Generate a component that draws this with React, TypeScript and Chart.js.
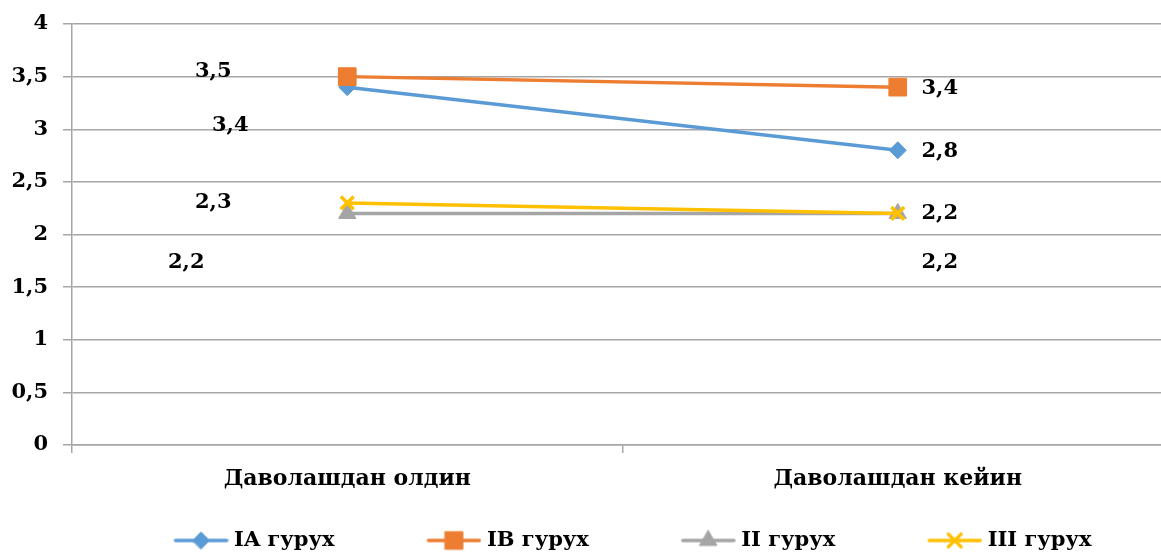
import React, { useEffect, useRef } from 'react';
import { Chart, registerables } from 'chart.js';
import { drawPoint } from 'chart.js/helpers';

Chart.register(...registerables);

const categories = ['Даволашдан олдин', 'Даволашдан кейин'];
const seriesNames = ['IA гурух', 'IB гурух', 'II гурух', 'III гурух'];
const iaValues = [3.4, 2.8];
const ibValues = [3.5, 3.4];
const iiValues = [2.2, 2.2];
const iiiValues = [2.3, 2.2];
const yTicks = [0, 0.5, 1, 1.5, 2, 2.5, 3, 3.5, 4];

const FONT = '"DejaVu Serif", serif';
const GRID = '#a6a6a6';
const colors = ['#5B9BD5', '#ED7D31', '#A5A5A5', '#FFC000'];
const pointStyles = ['rectRot', 'rect', 'triangle', 'crossRot'];
const pointRadii = [8.5, 12.5, 10, 9];
const drawOrder = [4, 3, 2, 1];
// value label offsets [dx, dy] from each point, per series, per category
const labelOffsets = [
  [[-117, 38], [42, 1]],
  [[-134, -5], [42, 1]],
  [[-161, 49], [42, 49]],
  [[-134, 0], [42, 0]],
];

const CW = 1161;
const CH = 554;
const PLOT_TOP = 24;
const PLOT_RIGHT = 1173; // plot area runs past the right edge of the picture
const LEGEND_SHIFT_X = 8;
const LEGEND_SHIFT_Y = 7;
const LEGEND_BOX = 138;
const LEGEND_LINE = 55;
const FS = 21;

function fmt(v: number) {
  return String(v).replace('.', ',');
}

function legendImage(i: number) {
  const w = LEGEND_BOX + 10;
  const h = 28;
  const c = document.createElement('canvas');
  c.width = w;
  c.height = h;
  const ctx = c.getContext('2d')!;
  const x1 = w - LEGEND_LINE;
  const x2 = w;
  const y = h / 2;
  ctx.strokeStyle = colors[i];
  ctx.lineWidth = 3.5;
  ctx.lineCap = 'round';
  ctx.beginPath();
  ctx.moveTo(x1 + 2, y);
  ctx.lineTo(x2 - 2, y);
  ctx.stroke();
  ctx.fillStyle = colors[i];
  ctx.strokeStyle = colors[i];
  ctx.lineWidth = i === 3 ? 3.5 : 1;
  drawPoint(ctx, { pointStyle: pointStyles[i], radius: pointRadii[i], rotation: 0, borderWidth: ctx.lineWidth } as any, (x1 + x2) / 2, y);
  return c;
}

const layoutTweakPlugin = {
  id: 'layoutTweak',
  afterLayout(chart: any) {
    const x = chart.scales.x;
    const y = chart.scales.y;
    const ca = chart.chartArea;
    x.right = PLOT_RIGHT;
    x.width = x.right - x.left;
    x.configure();
    y.top = PLOT_TOP;
    y.height = y.bottom - y.top;
    y.configure();
    ca.right = PLOT_RIGHT;
    ca.width = ca.right - ca.left;
    ca.top = PLOT_TOP;
    ca.height = ca.bottom - ca.top;
    const lg = chart.legend;
    if (lg) {
      lg.left += LEGEND_SHIFT_X;
      lg.right += LEGEND_SHIFT_X;
      lg.top += LEGEND_SHIFT_Y;
      lg.bottom += LEGEND_SHIFT_Y;
    }
  },
};

const valueLabelPlugin = {
  id: 'valueLabels',
  afterDatasetsDraw(chart: any) {
    const ctx = chart.ctx;
    ctx.save();
    ctx.font = `bold ${FS}px ${FONT}`;
    ctx.fillStyle = '#000';
    ctx.textAlign = 'center';
    ctx.textBaseline = 'middle';
    chart.data.datasets.forEach((ds: any, i: number) => {
      const meta = chart.getDatasetMeta(i);
      meta.data.forEach((pt: any, j: number) => {
        const [dx, dy] = labelOffsets[i][j];
        ctx.fillText(fmt(ds.data[j]), pt.x + dx, pt.y + dy);
      });
    });
    ctx.restore();
  },
};

export default function App() {
  const ref = useRef<HTMLCanvasElement>(null);

  useEffect(() => {
    if (!ref.current) return;
    Chart.defaults.font.family = FONT;
    Chart.defaults.font.size = FS;
    Chart.defaults.font.weight = 'bold';
    Chart.defaults.color = '#000';

    const imgs = [0, 1, 2, 3].map(legendImage);
    const values = [iaValues, ibValues, iiValues, iiiValues];

    const chart = new Chart(ref.current, {
      type: 'line',
      data: {
        labels: categories,
        datasets: seriesNames.map((name, i) => ({
          label: name,
          data: values[i],
          borderColor: colors[i],
          backgroundColor: colors[i],
          borderWidth: 3.5,
          pointStyle: pointStyles[i] as any,
          pointRadius: pointRadii[i],
          pointHoverRadius: pointRadii[i],
          pointBorderWidth: i === 3 ? 3.5 : 1,
          pointBorderColor: colors[i],
          pointBackgroundColor: colors[i],
          tension: 0,
          order: drawOrder[i],
        })),
      },
      options: {
        responsive: false,
        maintainAspectRatio: false,
        animation: false,
        layout: { padding: { top: 24, left: 0, right: 0, bottom: 0 } },
        plugins: {
          tooltip: { enabled: false },
          legend: {
            position: 'bottom',
            labels: {
              usePointStyle: true,
              pointStyleWidth: LEGEND_BOX,
              padding: 4,
              font: { family: FONT, size: FS, weight: 'bold' },
              color: '#000',
              generateLabels: (ch: any) =>
                ch.data.datasets.map((ds: any, i: number) => ({
                  text: ds.label,
                  datasetIndex: i,
                  pointStyle: imgs[i],
                  fillStyle: colors[i],
                  strokeStyle: colors[i],
                  lineWidth: 0,
                  hidden: false,
                  fontColor: '#000',
                })),
            },
          },
        },
        scales: {
          x: {
            type: 'category',
            offset: true,
            grid: {
              offset: true,
              drawOnChartArea: false,
              drawTicks: true,
              tickLength: 8,
              color: GRID,
              lineWidth: 1.5,
            },
            border: { color: GRID, width: 1.5 },
            ticks: { padding: 13, maxRotation: 0, font: { family: FONT, size: 22, weight: 'bold' }, color: '#000' },
            afterFit: (s: any) => {
              s.height = 74;
            },
          },
          y: {
            min: 0,
            max: 4,
            afterBuildTicks: (s: any) => {
              s.ticks = yTicks.map((v) => ({ value: v }));
            },
            ticks: {
              padding: 15,
              font: { family: FONT, size: FS, weight: 'bold' },
              color: '#000',
              callback: (v: any) => fmt(Number(v)),
            },
            grid: { color: GRID, lineWidth: 1.5, tickLength: 9 },
            border: { color: GRID, width: 1.5 },
            afterFit: (s: any) => {
              s.width = 72;
            },
          },
        },
      },
      plugins: [layoutTweakPlugin, valueLabelPlugin],
    });
    return () => chart.destroy();
  }, []);

  return (
    <div style={{ position: 'fixed', left: 0, top: 0, width: CW, height: CH, overflow: 'hidden', background: '#fff' }}>
      <canvas ref={ref} width={CW} height={CH} style={{ display: 'block', width: CW, height: CH }} />
    </div>
  );
}
